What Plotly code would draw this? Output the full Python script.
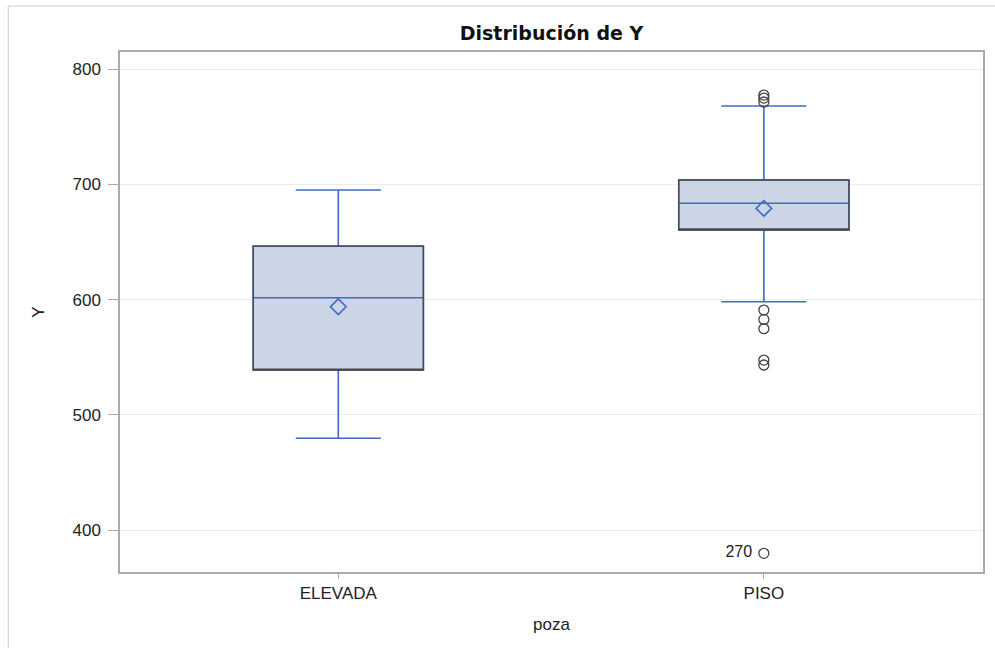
import plotly.graph_objects as go

# Box-plot summary of Y by poza
categories = ["ELEVADA", "PISO"]
q1 = [538.8, 660.3]
median = [601.6, 683.5]
q3 = [646.4, 703.7]
lower_whisker = [479.6, 598.1]
upper_whisker = [695.0, 767.9]
means = [593.8, 679.1]

# Observations beyond the whiskers (PISO only)
outlier_group = ["PISO"] * 9
outlier_values = [777.4, 774.8, 771.4, 590.9, 582.8, 574.7, 547.5, 543.2, 379.8]
outlier_labels = ["", "", "", "", "", "", "", "", "270"]

y_ticks = [400, 500, 600, 700, 800]

BLUE = "#4169c4"
FILL = "#cbd5e6"
EDGE = "#4a4a4a"
FONT = "Liberation Sans, Arial, sans-serif"
TITLE_FONT = "DejaVu Sans, Verdana, sans-serif"

fig = go.Figure()

# Blue whiskers, caps and median over the shaded box
fig.add_trace(go.Box(
    x=categories, q1=q1, median=median, q3=q3,
    lowerfence=lower_whisker, upperfence=upper_whisker,
    fillcolor=FILL, line=dict(color=BLUE, width=1.6),
    width=0.4, whiskerwidth=0.5, boxpoints=False,
    showlegend=False, hoverinfo="skip",
))

# Dark outline of the interquartile box
fig.add_trace(go.Box(
    x=categories, q1=q1, median=q1, q3=q3,
    lowerfence=q1, upperfence=q3,
    fillcolor="rgba(0,0,0,0)", line=dict(color=EDGE, width=1.4),
    width=0.4, whiskerwidth=0, boxpoints=False,
    showlegend=False, hoverinfo="skip",
))

# Means
fig.add_trace(go.Scatter(
    x=categories, y=means, mode="markers",
    marker=dict(symbol="diamond-open", size=12, color=BLUE,
                line=dict(width=1.6, color=BLUE)),
    showlegend=False,
))

# Outliers, with observation id where labelled
fig.add_trace(go.Scatter(
    x=outlier_group, y=outlier_values, mode="markers+text",
    text=[t + "\u00a0" if t else t for t in outlier_labels],
    textposition="middle left",
    textfont=dict(family=FONT, size=16, color="#222222"),
    marker=dict(symbol="circle-open", size=10, color="#444444",
                line=dict(width=1.3, color="#444444")),
    showlegend=False,
))

fig.update_layout(
    width=995, height=648,
    margin=dict(l=120, r=10, t=52, b=76),
    paper_bgcolor="white", plot_bgcolor="white",
    boxmode="overlay",
    font=dict(family=FONT, size=16, color="#333333"),
    title=dict(text="<b>Distribución de Y</b>", xref="paper", x=0.5,
               xanchor="center", y=1 - 33 / 648, yanchor="middle",
               font=dict(family=TITLE_FONT, size=19, color="#111111")),
    shapes=[dict(type="rect", xref="paper", yref="paper",
                 x0=-112 / 865, x1=1.05, y0=-0.2, y1=1 + 46 / 520,
                 line=dict(color="#cccccc", width=1), layer="below")],
)

fig.update_xaxes(
    type="category", range=[-0.513, 1.515],
    showline=True, mirror=True, linecolor="#a7abb0", linewidth=1.5,
    ticks="outside", ticklen=5, tickcolor="#a7abb0",
    showgrid=False, tickfont=dict(size=17, color="#222222"),
    title=dict(text="poza", font=dict(size=17, color="#222222"), standoff=16),
)

fig.update_yaxes(
    range=[363.6, 814.8], tickvals=y_ticks,
    showline=True, mirror=True, linecolor="#a7abb0", linewidth=1.5,
    ticks="outside", ticklen=10, tickcolor="#a7abb0",
    showgrid=True, gridcolor="#ebebeb", gridwidth=1,
    zeroline=False, ticklabelstandoff=4,
    tickfont=dict(size=17, color="#222222"),
    title=dict(text="Y", font=dict(size=17, color="#222222"), standoff=24),
)

fig.write_html("out.html")
